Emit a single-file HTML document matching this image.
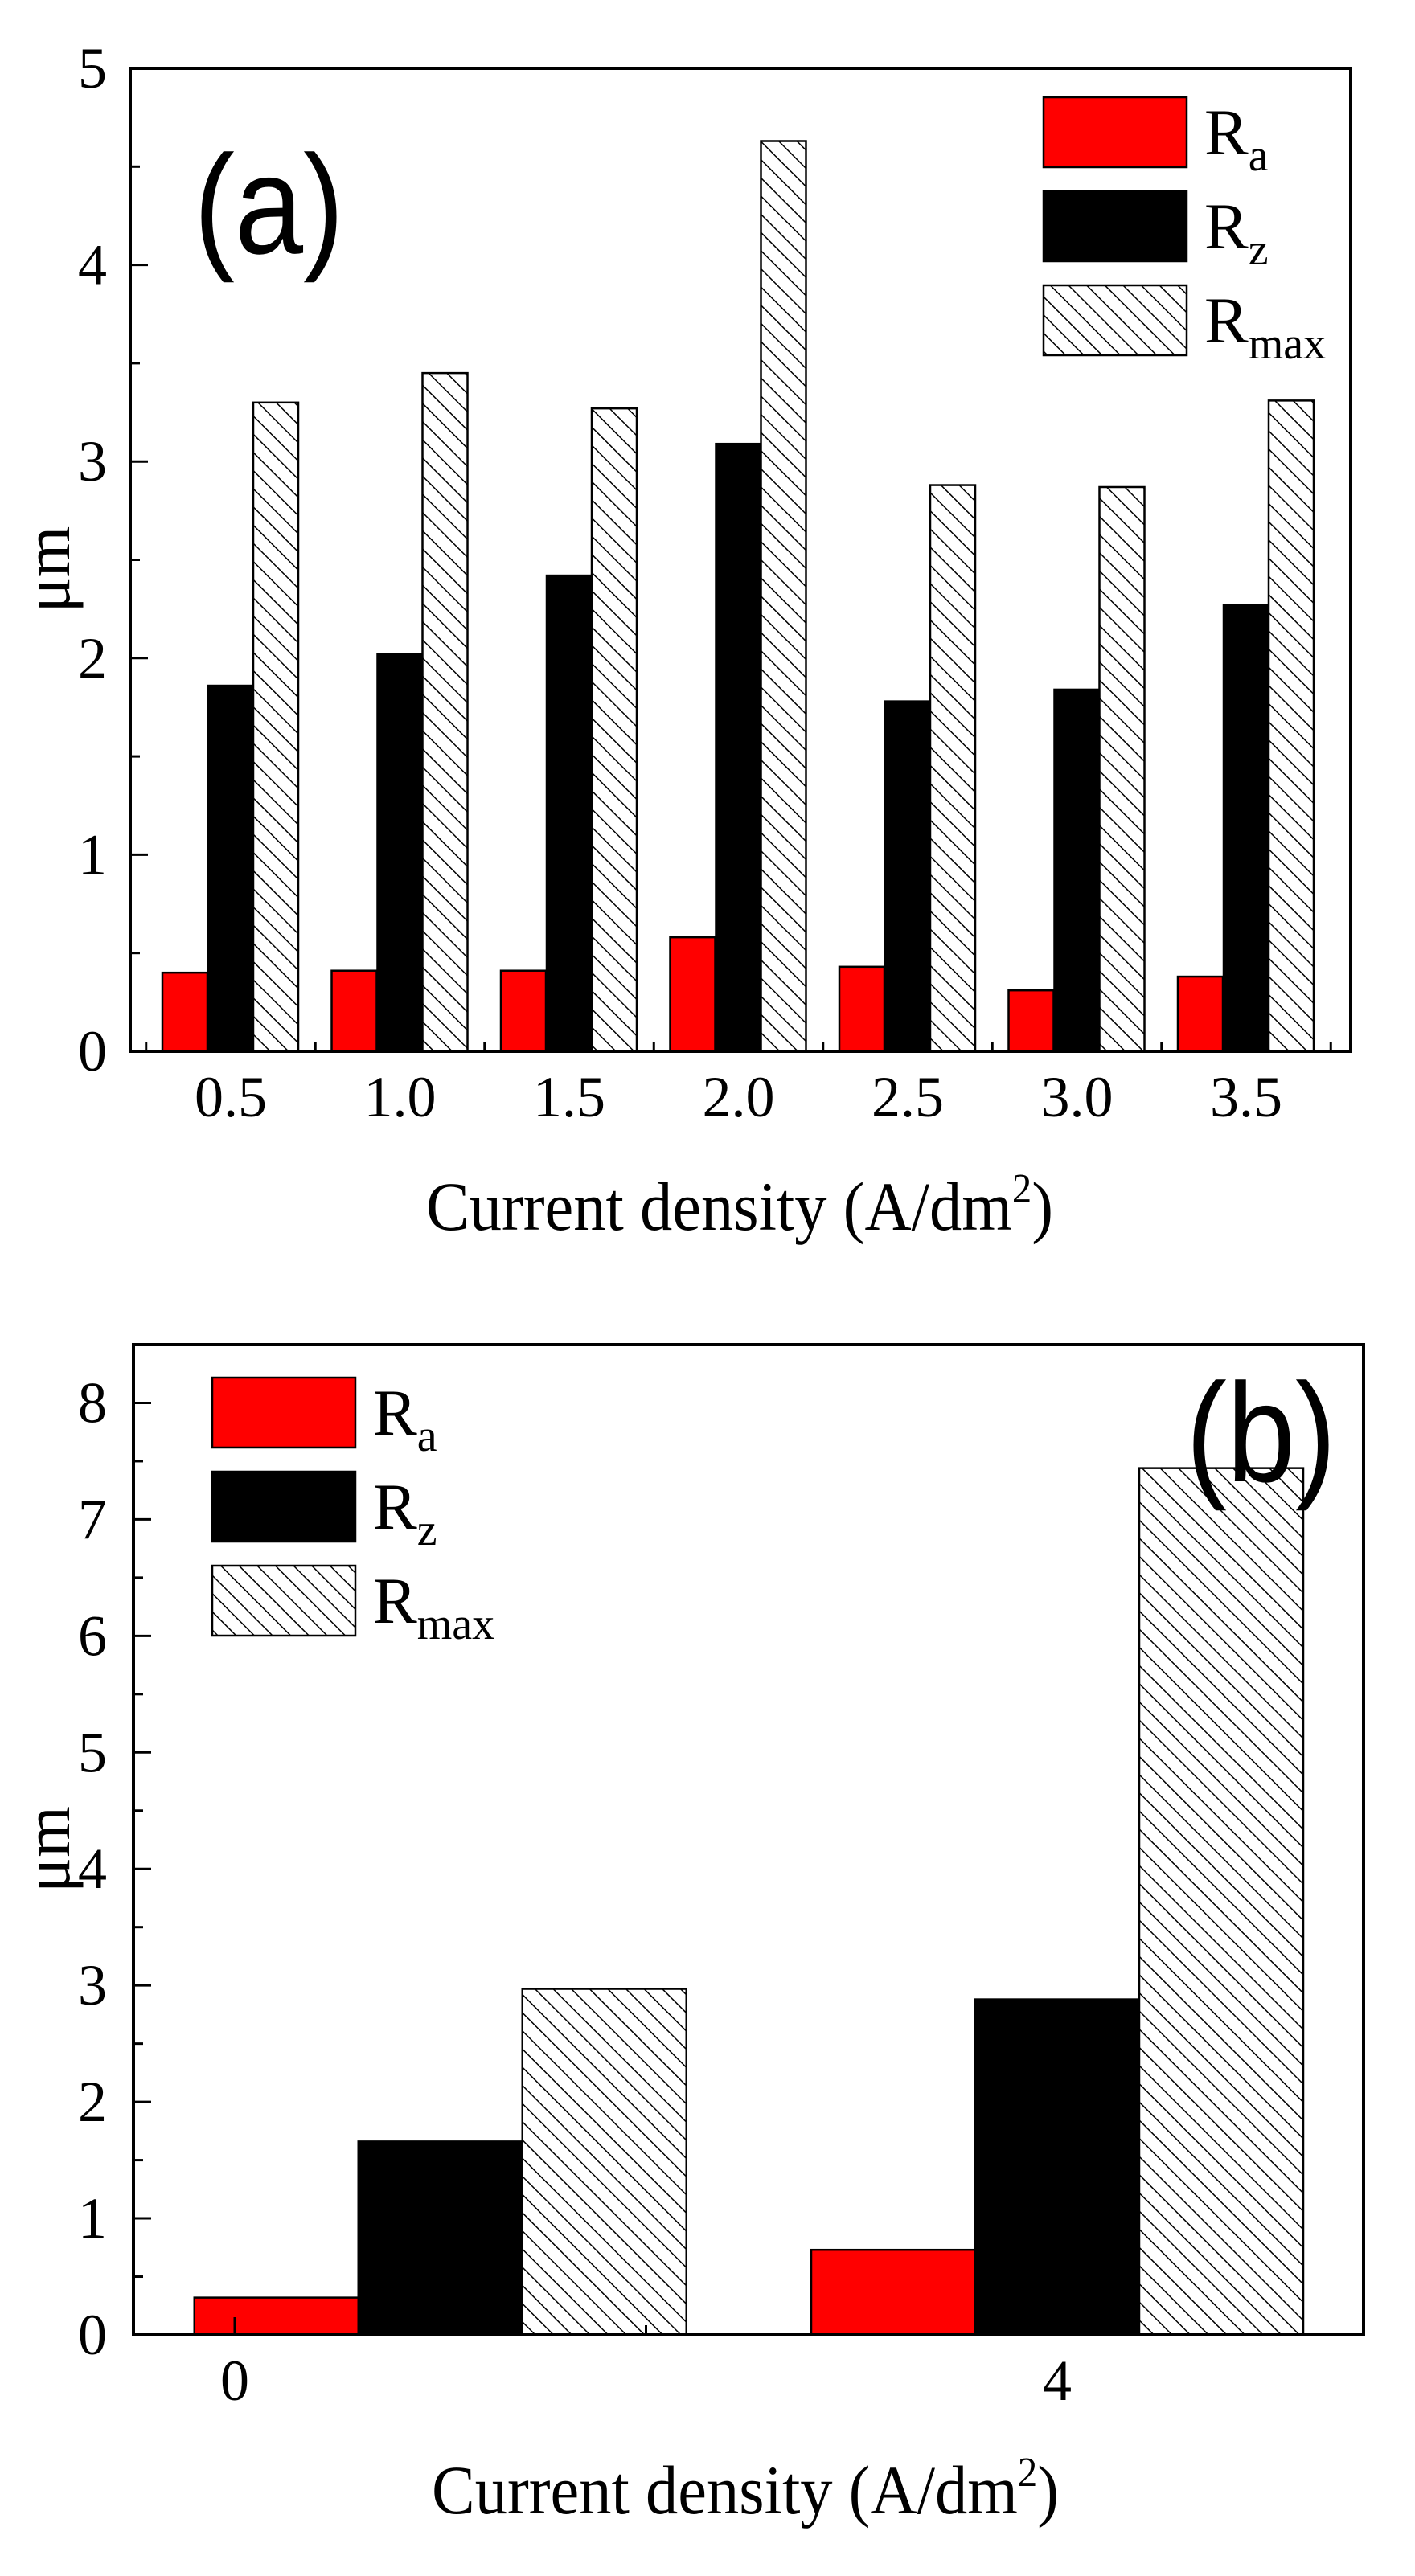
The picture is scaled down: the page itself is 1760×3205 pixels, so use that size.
<!DOCTYPE html>
<html><head><meta charset="utf-8"><style>
html,body{margin:0;padding:0;background:#fff;}
svg{display:block;}
text{font-family:"Liberation Serif",serif;fill:#000;}
.sans{font-family:"Liberation Sans",sans-serif;}
</style></head><body>
<svg id="fig" width="1760" height="3205" viewBox="0 0 1760 3205" xmlns="http://www.w3.org/2000/svg">
<defs>
<pattern id="hatch" patternUnits="userSpaceOnUse" width="16" height="16" patternTransform="rotate(-45)">
<rect width="16" height="16" fill="#fff"/>
<line x1="0" y1="0" x2="0" y2="16" stroke="#000" stroke-width="3"/>
</pattern>
</defs>
<g id="chartA"></g>
<g id="chartB"></g>
</svg>
<script>
// Chart (a) data
const catsA = ["0.5","1.0","1.5","2.0","2.5","3.0","3.5"];
const xValsA = [0.5,1.0,1.5,2.0,2.5,3.0,3.5];
const raA = [0.40,0.41,0.41,0.58,0.43,0.31,0.38];
const rzA = [1.86,2.02,2.42,3.09,1.78,1.84,2.27];
const rmaxA = [3.30,3.45,3.27,4.63,2.88,2.87,3.31];
const yTicksA = [0,1,2,3,4,5];
// Chart (b) data
const xValsB = [1,4];
const raB = [0.32,0.73];
const rzB = [1.66,2.88];
const rmaxB = [2.97,7.44];
const xTicksB = [0,4];
const xTickLabelsB = ["0","4"];
const yTicksB = [0,1,2,3,4,5,6,7,8];

const NS="http://www.w3.org/2000/svg";
function mk(parent,tag,attrs,text){const e=document.createElementNS(NS,tag);for(const k in attrs)e.setAttribute(k,attrs[k]);if(text!==undefined)e.textContent=text;parent.appendChild(e);return e;}

function drawChart(g,cfg){
  const {L,R,T,B,ymax,xs,bw,offs} = cfg;
  const ys=v=>B-(v/ymax)*(B-T);
  const series=[{d:cfg.ra,fill:"#ff0000",n:"ra"},{d:cfg.rz,fill:"#000",n:"rz"},{d:cfg.rmax,fill:"url(#hatch)",n:"rmax"}];
  series.forEach((s,si)=>{
    s.d.forEach((v,i)=>{
      const cx=xs(cfg.xv[i])+offs[si];
      const r=mk(g,"rect",{x:cx-bw/2,y:ys(v),width:bw,height:B-ys(v),fill:s.fill,stroke:"#000","stroke-width":2.5});
      
      
    });
  });
  for(let v=0;v<=ymax+1e-9;v+=0.5){
    const major=Math.abs(v-Math.round(v))<1e-9;
    mk(g,"line",{x1:L,x2:L+(major?22:12),y1:ys(v),y2:ys(v),stroke:"#000","stroke-width":3});
  }
  cfg.yt.forEach(v=>{
    const t=mk(g,"text",{x:133,y:ys(v)+24,"text-anchor":"end","font-size":72},String(v));
    
    
  });
  const f=mk(g,"rect",{x:L,y:T,width:R-L,height:B-T,fill:"none",stroke:"#000","stroke-width":4});
  
  
  const yt=mk(g,"text",{transform:`translate(${86},${(T+B)/2+12}) rotate(-90)`,"text-anchor":"middle","font-size":82},"μm");
  
  
  const xt=mk(g,"text",{x:cfg.xtX,y:B+222,"font-size":86,textLength:780,lengthAdjust:"spacingAndGlyphs"});
  
  
  xt.appendChild(document.createTextNode("Current density (A/dm"));
  mk(xt,"tspan",{dy:-34,"font-size":52},"2");
  mk(xt,"tspan",{dy:34},")");
  const lg=mk(g,"g",{});
  
  
  const labels=[["R","a"],["R","z"],["R","max"]];
  series.forEach((s,i)=>{
    const y0=cfg.legY+i*117;
    mk(lg,"rect",{x:cfg.legX,y:y0,width:178,height:87,fill:s.fill,stroke:"#000","stroke-width":2.5});
    const t=mk(lg,"text",{x:cfg.legX+200,y:y0+71,"font-size":82},labels[i][0]);
    
    
    mk(t,"tspan",{dy:20,"font-size":56},labels[i][1]);
  });
  const pl=mk(g,"text",{x:cfg.plX,y:cfg.plY,"font-size":175,class:"sans",textLength:187,lengthAdjust:"spacingAndGlyphs"},cfg.pl);
  
  
  return ys;
}

(function(){
  const g=document.getElementById("chartA");
  const L=162,R=1680,T=85,B=1308;
  const xs=v=>287+(v-0.5)*421;
  drawChart(g,{L,R,T,B,ymax:5,xs,bw:56,offs:[-57,0,56],xv:xValsA,ra:raA,rz:rzA,rmax:rmaxA,yt:yTicksA,xtX:530,legX:1298,legY:121,plX:241,plY:315,pl:"(a)"});
  for(let i=0;i<=catsA.length;i++){
    const x=xs(xValsA[0]-0.25+i*0.5);
    if(x<=L+5||x>=R-5) continue;
    mk(g,"line",{x1:x,x2:x,y1:B,y2:B-12,stroke:"#000","stroke-width":3});
  }
  catsA.forEach((c,i)=>{
    const t=mk(g,"text",{x:xs(xValsA[i]),y:B+81,"text-anchor":"middle","font-size":72},c);
    
    
  });
})();

(function(){
  const g=document.getElementById("chartB");
  const L=166,R=1696,T=1673,B=2905;
  const xs=v=>292+v*255.75;
  drawChart(g,{L,R,T,B,ymax:8.5,xs,bw:204,offs:[-204,0,204],xv:xValsB,ra:raB,rz:rzB,rmax:rmaxB,yt:yTicksB,xtX:537,legX:264,legY:1714,plX:1475,plY:1843,pl:"(b)"});
  [0,2,4].forEach(v=>{
    const x=xs(v);
    mk(g,"line",{x1:x,x2:x,y1:B,y2:B-(v%4===0?22:12),stroke:"#000","stroke-width":3});
  });
  xTicksB.forEach((v,i)=>{
    const t=mk(g,"text",{x:xs(v),y:B+81,"text-anchor":"middle","font-size":72},xTickLabelsB[i]);
    
    
  });
})();
</script>
</body></html>
